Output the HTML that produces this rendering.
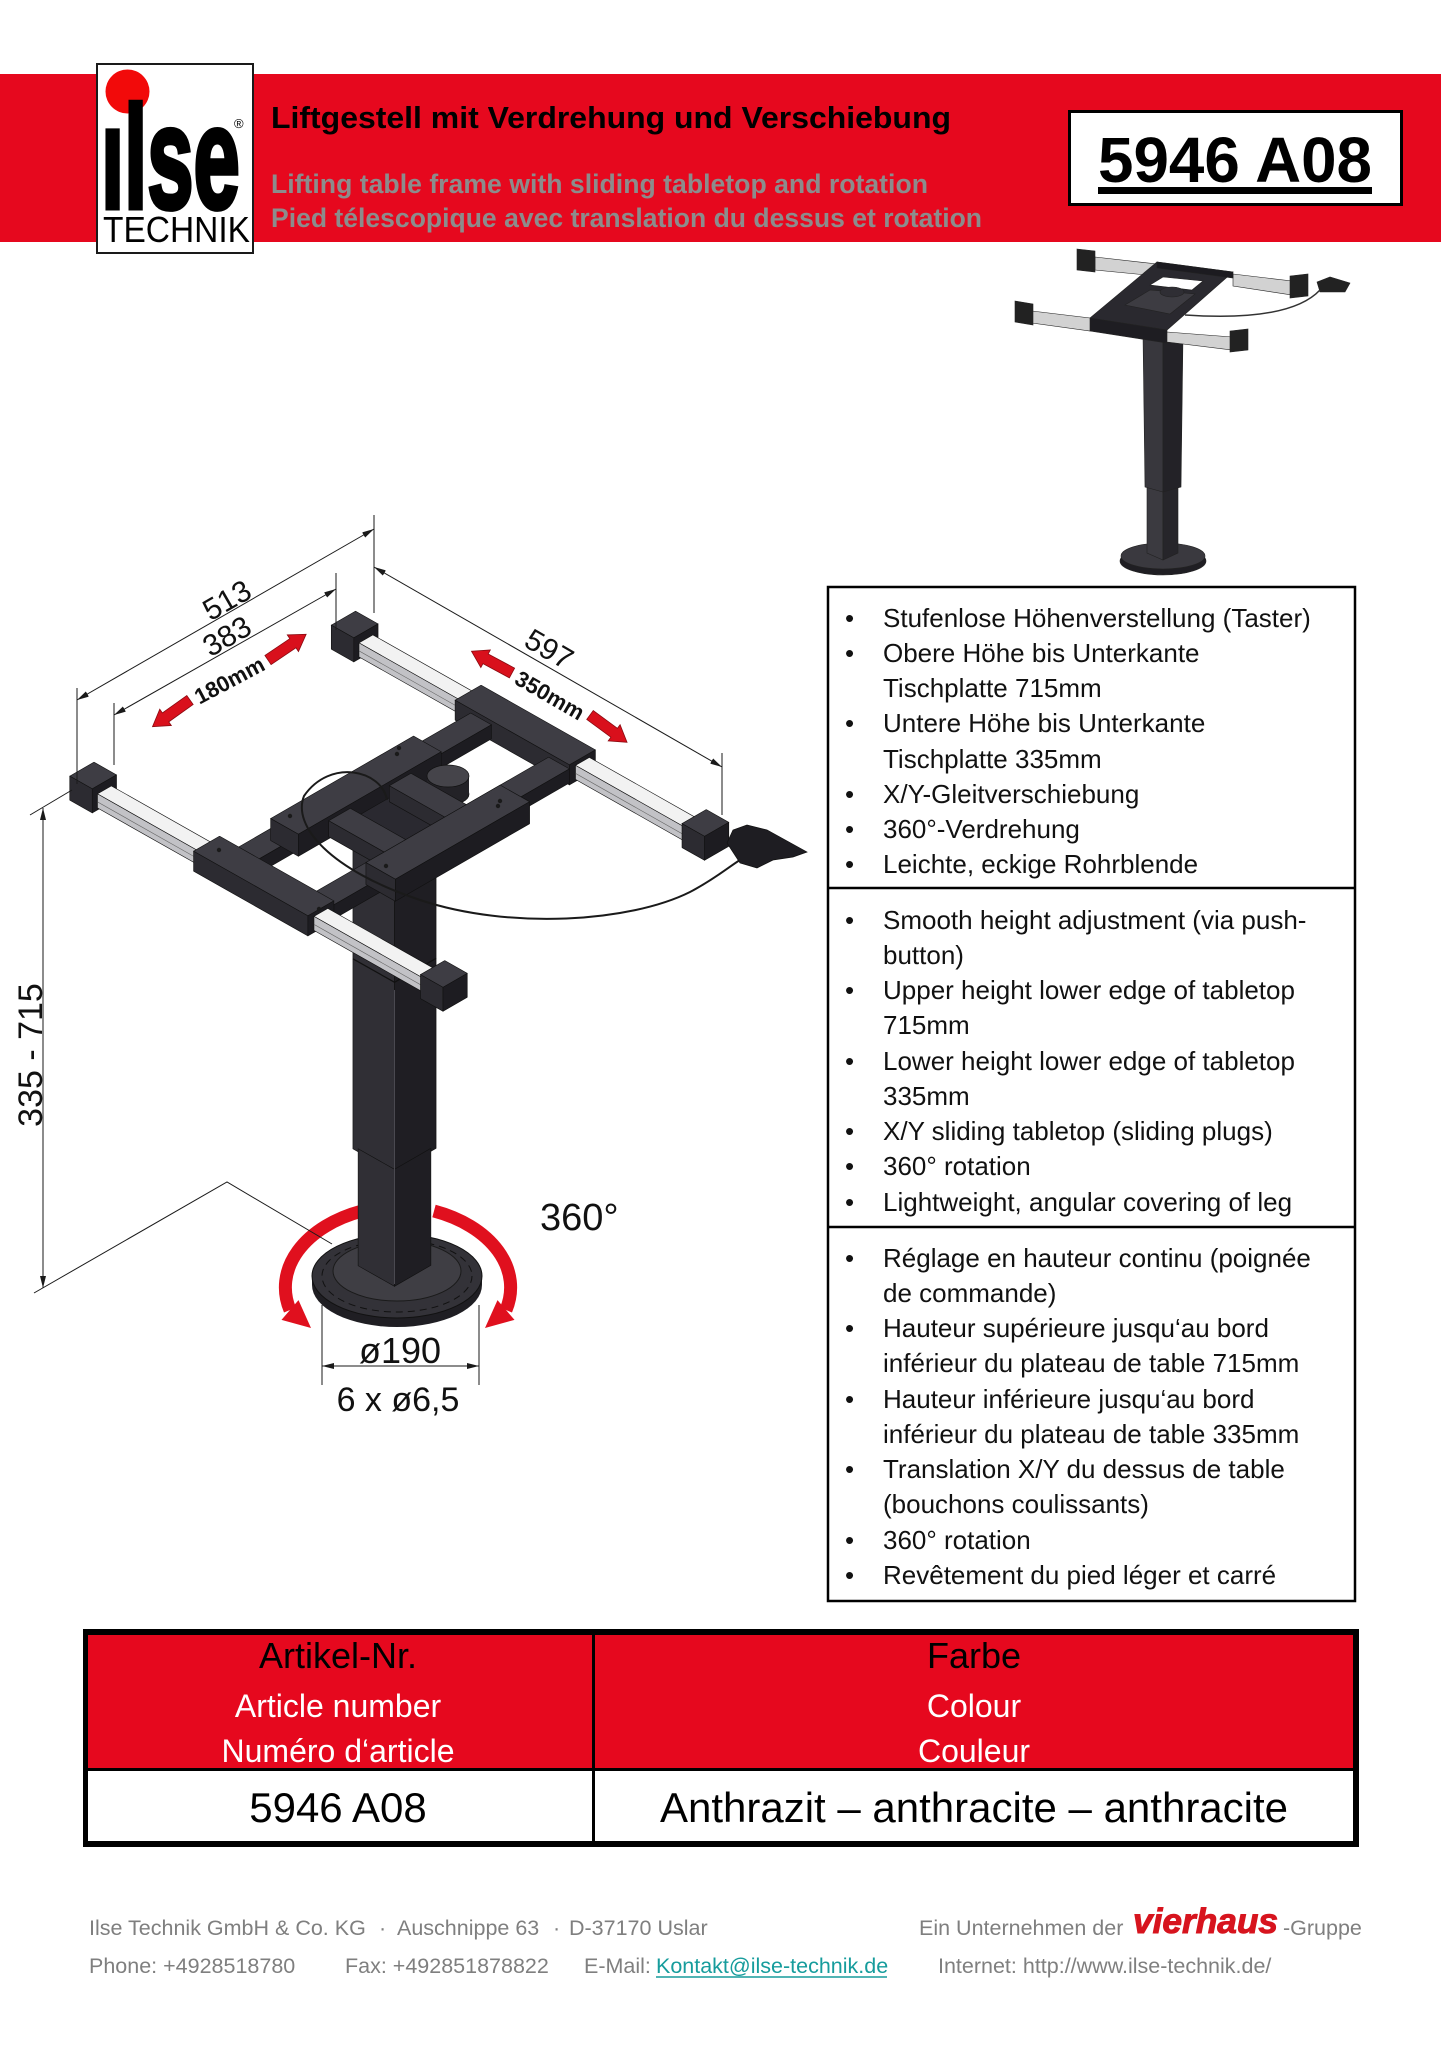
<!DOCTYPE html>
<html><head><meta charset="utf-8"><title>5946 A08</title>
<style>
html,body{margin:0;padding:0;background:#fff;}
svg{display:block;font-family:"Liberation Sans",Arial,sans-serif;}
</style></head>
<body>
<svg width="1441" height="2048" viewBox="0 0 1441 2048" xmlns="http://www.w3.org/2000/svg">
<defs>
<marker id="ar" viewBox="0 0 12 6" refX="12" refY="3" markerWidth="12" markerHeight="6" markerUnits="userSpaceOnUse" orient="auto-start-reverse"><path d="M0,0 L12,3 L0,6 z" fill="#1a1a1a"/></marker>
</defs>
<rect width="1441" height="2048" fill="#fff"/>

<!-- HEADER -->
<rect x="0" y="74" width="1441" height="168" fill="#e6081e"/>
<rect x="97" y="64" width="156" height="189" fill="#fff" stroke="#1a1a1a" stroke-width="2"/>
<circle cx="127.5" cy="91.5" r="22" fill="#f20a0a"/>
<text transform="translate(101,208) scale(0.57,1)" font-size="146" font-weight="bold" fill="#000" stroke="#000" stroke-width="5">ılse</text>
<text x="234" y="128" font-size="13" fill="#000">®</text>
<text x="103" y="242" font-size="36" fill="#000" textLength="147" lengthAdjust="spacingAndGlyphs">TECHNIK</text>

<text x="271" y="128" font-size="31" font-weight="bold" fill="#000" textLength="680" lengthAdjust="spacingAndGlyphs">Liftgestell mit Verdrehung und Verschiebung</text>
<text x="271" y="193" font-size="27" font-weight="bold" fill="#8c8c8c" textLength="657" lengthAdjust="spacingAndGlyphs">Lifting table frame with sliding tabletop and rotation</text>
<text x="271" y="227" font-size="27" font-weight="bold" fill="#8c8c8c" textLength="711" lengthAdjust="spacingAndGlyphs">Pied télescopique avec translation du dessus et rotation</text>

<rect x="1069.5" y="111.5" width="332" height="93" fill="#fff" stroke="#000" stroke-width="3"/>
<text x="1098" y="182" font-size="64" font-weight="bold" fill="#000" textLength="274" lengthAdjust="spacingAndGlyphs">5946 A08</text>
<rect x="1098" y="187" width="274" height="7" fill="#000"/>

<!-- THUMBNAIL -->
<g stroke="#222" stroke-width="0.6">
<ellipse cx="1163" cy="561" rx="43" ry="14" fill="#1f1e23"/>
<ellipse cx="1163" cy="556" rx="42" ry="13" fill="#3a393f"/>
<polygon points="1147,487 1163,492 1163,560 1147,553" fill="#3b3a40"/>
<polygon points="1163,492 1178,487 1178,553 1163,560" fill="#26252a"/>
<polygon points="1143,335 1163,340 1163,492 1145,487" fill="#38373d"/>
<polygon points="1163,340 1183,335 1181,487 1163,492" fill="#232227"/>
<polygon points="1095,257 1157,264 1157,276 1095,270" fill="#d2d2d2"/>
<polygon points="1077,249 1095,251 1095,272 1077,270" fill="#222"/>
<polygon points="1233,274 1292,281 1292,295 1233,286" fill="#d2d2d2"/>
<polygon points="1290,276 1308,274 1308,296 1290,298" fill="#222"/>
<polygon points="1090,318 1157,262 1233,272 1167,330" fill="#2a292f"/>
<polygon points="1157,262 1233,272 1233,278 1157,268" fill="#1c1b20"/>
<polygon points="1150,285 1163,277 1203,281 1192,290" fill="#fff"/>
<polygon points="1125,305 1150,290 1195,294 1170,314" fill="#3d3c42"/>
<ellipse cx="1172" cy="292" rx="12" ry="5" fill="#2f2e34"/>
<polygon points="1090,318 1167,330 1167,343 1090,331" fill="#1e1d22"/>
<polygon points="1032,311 1090,318 1090,331 1032,323" fill="#d2d2d2"/>
<polygon points="1015,301 1033,304 1033,325 1015,322" fill="#222"/>
<polygon points="1167,332 1232,337 1232,350 1167,342" fill="#d2d2d2"/>
<polygon points="1230,331 1248,329 1248,350 1230,352" fill="#222"/>
<polygon points="1317,282 1330,277 1350,283 1345,292 1320,292" fill="#222"/>
</g>
<path d="M1185 315 Q1290 322 1320 290" stroke="#333" stroke-width="1.5" fill="none"/>

<!-- MAIN DRAWING -->
<!-- base -->
<ellipse cx="397" cy="1285" rx="85" ry="42" fill="#1f1e23"/>
<rect x="312" y="1276" width="170" height="9" fill="#1f1e23"/>
<ellipse cx="397" cy="1276" rx="85" ry="42" fill="#333238" stroke="#111" stroke-width="1"/>
<ellipse cx="397" cy="1276" rx="75" ry="36" fill="none" stroke="#111" stroke-width="1" stroke-dasharray="7 5"/>
<ellipse cx="397" cy="1271" rx="64" ry="30" fill="#3f3e44" stroke="#1a1a1a" stroke-width="1"/>

<!-- red rotation arrows -->
<path d="M362 1211 A120 82 0 0 0 290 1310" stroke="#e0101e" stroke-width="13" fill="none"/>
<polygon points="281.5,1319.9 298.5,1300.1 311,1328" fill="#e0101e"/>
<path d="M434 1211 A120 82 0 0 1 506 1310" stroke="#e0101e" stroke-width="13" fill="none"/>
<polygon points="514.5,1319.9 497.5,1300.1 485,1328" fill="#e0101e"/>

<!-- column -->
<g stroke="#111" stroke-width="0.7">
<g transform="matrix(0.866 0.49 0 1 203.98 724.5)"><rect x="172" y="20" width="48" height="320" fill="#302f35"/></g>
<g transform="matrix(0.866 -0.5 0 1 284.52 895.8)"><rect x="127" y="20" width="48" height="320" fill="#1f1e23"/></g>
<g transform="matrix(0.866 0.49 0 1 206.58 723)"><rect x="175" y="340" width="42" height="117" fill="#302f35"/></g>
<g transform="matrix(0.866 -0.5 0 1 281.92 894.33)"><rect x="130" y="340" width="42" height="117" fill="#1f1e23"/></g>
</g>
<polyline points="352.9,958.8 394.5,982.3 436.1,958.3" stroke="#111" stroke-width="1.2" fill="none"/>
<line x1="394.5" y1="990" x2="394.5" y2="1284" stroke="#4a4950" stroke-width="1"/>

<!-- frame -->
<g stroke="#111" stroke-width="0.7" stroke-linejoin="round">
<!-- BE -->
<g transform="matrix(0.866 0.49 0.866 -0.5 94 776)"><rect x="-14" y="288" width="26" height="28" fill="#3e3d44"/></g>
<g transform="matrix(0.866 0.49 0 1 343.408 644)"><rect x="-14" y="-12" width="26" height="24" fill="#2c2b31"/></g>
<g transform="matrix(0.866 -0.5 0 1 104.392 793.88)"><rect x="288" y="-12" width="28" height="24" fill="#1d1c21"/></g>
<!-- R3 -->
<g transform="matrix(0.866 0.49 0.866 -0.5 94 784)"><rect x="12" y="294" width="118" height="16" fill="#f2f2f2"/></g>
<g transform="matrix(0.866 0.49 0 1 348.6 641)"><rect x="12" y="-4" width="118" height="14" fill="#c2c2c6"/><line x1="12" y1="4" x2="130" y2="4" stroke="#666"/></g>
<!-- BB -->
<g transform="matrix(0.866 0.49 0.866 -0.5 94 780)"><rect x="130" y="287" width="132" height="30" fill="#3e3d44"/></g>
<g transform="matrix(0.866 0.49 0 1 342.542 644.5)"><rect x="130" y="-8" width="132" height="20" fill="#2c2b31"/></g>
<g transform="matrix(0.866 -0.5 0 1 320.892 916.38)"><rect x="287" y="-8" width="30" height="20" fill="#1d1c21"/></g>
<!-- CB1 connector -->
<g transform="matrix(0.866 0.49 0.866 -0.5 94 784)"><rect x="148" y="15" width="24" height="272" fill="#3e3d44"/></g>
<g transform="matrix(0.866 -0.5 0 1 242.95 872.28)"><rect x="15" y="-4" width="272" height="14" fill="#1d1c21"/></g>
<!-- CB1 block -->
<g transform="matrix(0.866 0.49 0.866 -0.5 94 778)"><rect x="144" y="60" width="32" height="165" fill="#3e3d44"/></g>
<g transform="matrix(0.866 0.49 0 1 145.96 758)"><rect x="144" y="-10" width="32" height="22" fill="#2c2b31"/></g>
<g transform="matrix(0.866 -0.5 0 1 246.42 874.24)"><rect x="60" y="-10" width="165" height="22" fill="#1d1c21"/></g>
<!-- plate -->
<g transform="matrix(0.866 0.49 0.866 -0.5 94 794)"><rect x="176" y="118" width="68" height="50" fill="#2a2930"/></g>
<g transform="matrix(0.866 0.49 0 1 196.19 729)"><rect x="176" y="6" width="68" height="16" fill="#222126"/></g>
</g>
<!-- motor -->
<ellipse cx="448" cy="794" rx="21" ry="11" fill="#232227" stroke="#111" stroke-width="0.7"/>
<rect x="427" y="776" width="42" height="18" fill="#232227"/>
<ellipse cx="448" cy="776" rx="21" ry="11" fill="#45444a" stroke="#111" stroke-width="0.7"/>
<g stroke="#111" stroke-width="0.7" stroke-linejoin="round">
<!-- IB2 -->
<g transform="matrix(0.866 0.49 0.866 -0.5 94 782)"><rect x="176" y="165" width="68" height="25" fill="#3e3d44"/></g>
<g transform="matrix(0.866 0.49 0 1 236.89 705.5)"><rect x="176" y="-6" width="68" height="16" fill="#2c2b31"/></g>
<!-- IB1 -->
<g transform="matrix(0.866 0.49 0.866 -0.5 94 782)"><rect x="176" y="95" width="68" height="25" fill="#3e3d44"/></g>
<g transform="matrix(0.866 0.49 0 1 176.27 740.5)"><rect x="176" y="-6" width="68" height="16" fill="#2c2b31"/></g>
<!-- CB2 connector -->
<g transform="matrix(0.866 0.49 0.866 -0.5 94 784)"><rect x="238" y="15" width="24" height="272" fill="#3e3d44"/></g>
<g transform="matrix(0.866 -0.5 0 1 320.892 916.38)"><rect x="15" y="-4" width="272" height="14" fill="#1d1c21"/></g>
<!-- CB2 block -->
<g transform="matrix(0.866 0.49 0.866 -0.5 94 778)"><rect x="244" y="70" width="34" height="155" fill="#3e3d44"/></g>
<g transform="matrix(0.866 0.49 0 1 154.62 753)"><rect x="244" y="-10" width="34" height="22" fill="#2c2b31"/></g>
<g transform="matrix(0.866 -0.5 0 1 334.75 924.22)"><rect x="70" y="-10" width="155" height="22" fill="#1d1c21"/></g>
<!-- R4 -->
<g transform="matrix(0.866 0.49 0.866 -0.5 94 784)"><rect x="262" y="294" width="129" height="16" fill="#f2f2f2"/></g>
<g transform="matrix(0.866 0.49 0 1 348.6 641)"><rect x="262" y="-4" width="129" height="14" fill="#c2c2c6"/><line x1="262" y1="4" x2="391" y2="4" stroke="#666"/></g>
<!-- RE -->
<g transform="matrix(0.866 0.49 0.866 -0.5 94 776)"><rect x="391" y="288" width="26" height="28" fill="#3e3d44"/></g>
<g transform="matrix(0.866 0.49 0 1 343.408 644)"><rect x="391" y="-12" width="26" height="24" fill="#2c2b31"/></g>
<g transform="matrix(0.866 -0.5 0 1 455.122 992.33)"><rect x="288" y="-12" width="28" height="24" fill="#1d1c21"/></g>
<!-- LE -->
<g transform="matrix(0.866 0.49 0.866 -0.5 94 776)"><rect x="-14" y="-14" width="26" height="28" fill="#3e3d44"/></g>
<g transform="matrix(0.866 0.49 0 1 81.876 795)"><rect x="-14" y="-12" width="26" height="24" fill="#2c2b31"/></g>
<g transform="matrix(0.866 -0.5 0 1 104.392 793.88)"><rect x="-14" y="-12" width="28" height="24" fill="#1d1c21"/></g>
<!-- R1 -->
<g transform="matrix(0.866 0.49 0.866 -0.5 94 784)"><rect x="12" y="-8" width="118" height="16" fill="#f2f2f2"/></g>
<g transform="matrix(0.866 0.49 0 1 87.072 792)"><rect x="12" y="-4" width="118" height="14" fill="#c2c2c6"/><line x1="12" y1="4" x2="130" y2="4" stroke="#666"/></g>
<!-- FB -->
<g transform="matrix(0.866 0.49 0.866 -0.5 94 780)"><rect x="130" y="-15" width="132" height="30" fill="#3e3d44"/></g>
<g transform="matrix(0.866 0.49 0 1 81.01 795.5)"><rect x="130" y="-8" width="132" height="20" fill="#2c2b31"/></g>
<g transform="matrix(0.866 -0.5 0 1 320.892 916.38)"><rect x="-15" y="-8" width="30" height="20" fill="#1d1c21"/></g>
<!-- R2 -->
<g transform="matrix(0.866 0.49 0.866 -0.5 94 784)"><rect x="262" y="-8" width="129" height="16" fill="#f2f2f2"/></g>
<g transform="matrix(0.866 0.49 0 1 87.072 792)"><rect x="262" y="-4" width="129" height="14" fill="#c2c2c6"/><line x1="262" y1="4" x2="391" y2="4" stroke="#666"/></g>
<!-- FE -->
<g transform="matrix(0.866 0.49 0.866 -0.5 94 776)"><rect x="391" y="-14" width="26" height="28" fill="#3e3d44"/></g>
<g transform="matrix(0.866 0.49 0 1 81.876 795)"><rect x="391" y="-12" width="26" height="24" fill="#2c2b31"/></g>
<g transform="matrix(0.866 -0.5 0 1 455.122 992.33)"><rect x="-14" y="-12" width="28" height="24" fill="#1d1c21"/></g>
</g>
<!-- bolt holes -->
<g fill="#1a1a1a">
<circle cx="219" cy="850" r="2.2"/><circle cx="319" cy="909" r="2.2"/>
<circle cx="399" cy="748" r="2.2"/><circle cx="498" cy="806" r="2.2"/>
<circle cx="386" cy="866" r="2.2"/><circle cx="500" cy="801" r="2.2"/>
<circle cx="290" cy="816" r="2.2"/><circle cx="397" cy="754" r="2.2"/>
</g>

<!-- cable + hand control -->
<path d="M387 800 C382 770, 330 758, 304 796 C292 826, 330 870, 420 900 C510 930, 630 922, 690 892 C715 879, 730 866, 740 860" stroke="#1a1a1a" stroke-width="2" fill="none"/>
<polygon points="727,843 733,830 747,825 767,830 807,852 793,857 773,860 757,868 740,863" fill="#1e1d22" stroke="#111" stroke-width="0.7"/>

<!-- red slide arrows -->
<g fill="#d9101c" stroke="#8a0a10" stroke-width="0.8">
<polygon transform="translate(190,700) rotate(144.6)" points="0,-5.5 30,-5.5 30,-10 46,0 30,10 30,5.5 0,5.5"/>
<polygon transform="translate(268,660) rotate(-34)" points="0,-5.5 30,-5.5 30,-10 46,0 30,10 30,5.5 0,5.5"/>
<polygon transform="translate(512,673) rotate(-151.7)" points="0,-5.5 30,-5.5 30,-10 46,0 30,10 30,5.5 0,5.5"/>
<polygon transform="translate(590,715) rotate(36.4)" points="0,-5.5 30,-5.5 30,-10 46,0 30,10 30,5.5 0,5.5"/>
</g>

<!-- dimension lines -->
<g stroke="#1a1a1a" stroke-width="1" fill="none">
<line x1="77" y1="688" x2="77" y2="784"/>
<line x1="374" y1="515" x2="374" y2="613"/>
<line x1="114" y1="703" x2="114" y2="765"/>
<line x1="336" y1="573" x2="336" y2="630"/>
<line x1="722" y1="753" x2="722" y2="815"/>
<line x1="30" y1="815" x2="72" y2="790"/>
<polyline points="34,1293 227,1182 332,1244"/>
<line x1="322" y1="1305" x2="322" y2="1385"/>
<line x1="479" y1="1305" x2="479" y2="1385"/>
<line x1="77" y1="700" x2="374" y2="529" marker-start="url(#ar)" marker-end="url(#ar)"/>
<line x1="114" y1="715" x2="336" y2="589" marker-start="url(#ar)" marker-end="url(#ar)"/>
<line x1="374" y1="567" x2="722" y2="767" marker-start="url(#ar)" marker-end="url(#ar)"/>
<line x1="43" y1="808" x2="43" y2="1288" marker-start="url(#ar)" marker-end="url(#ar)"/>
<line x1="322" y1="1366" x2="479" y2="1366" marker-start="url(#ar)" marker-end="url(#ar)"/>
</g>

<!-- dimension text -->
<g fill="#111">
<text transform="translate(232,609) rotate(-30)" text-anchor="middle" font-size="30">513</text>
<text transform="translate(232,645) rotate(-30)" text-anchor="middle" font-size="30">383</text>
<text transform="translate(233,687) rotate(-28)" text-anchor="middle" font-size="22" font-weight="bold">180mm</text>
<text transform="translate(544,658) rotate(30)" text-anchor="middle" font-size="30">597</text>
<text transform="translate(546,702) rotate(30)" text-anchor="middle" font-size="22" font-weight="bold">350mm</text>
<text transform="translate(42,1055) rotate(-90)" text-anchor="middle" font-size="34">335 - 715</text>
<text x="540" y="1230" font-size="38">360°</text>
<text x="400" y="1363" text-anchor="middle" font-size="36">ø190</text>
<text x="398" y="1411" text-anchor="middle" font-size="34">6 x ø6,5</text>
</g>

<!-- RIGHT PANEL -->
<rect x="828" y="587" width="527" height="1014" fill="none" stroke="#000" stroke-width="2.5"/>
<line x1="828" y1="888" x2="1355" y2="888" stroke="#000" stroke-width="2.5"/>
<line x1="828" y1="1227" x2="1355" y2="1227" stroke="#000" stroke-width="2.5"/>
<g font-size="26" fill="#111">
<text x="845" y="627">•</text><text x="883" y="627">Stufenlose Höhenverstellung (Taster)</text>
<text x="845" y="662">•</text><text x="883" y="662">Obere Höhe bis Unterkante</text>
<text x="883" y="697">Tischplatte 715mm</text>
<text x="845" y="732">•</text><text x="883" y="732">Untere Höhe bis Unterkante</text>
<text x="883" y="768">Tischplatte 335mm</text>
<text x="845" y="803">•</text><text x="883" y="803">X/Y-Gleitverschiebung</text>
<text x="845" y="838">•</text><text x="883" y="838">360°-Verdrehung</text>
<text x="845" y="873">•</text><text x="883" y="873">Leichte, eckige Rohrblende</text>

<text x="845" y="929">•</text><text x="883" y="929">Smooth height adjustment (via push-</text>
<text x="883" y="964">button)</text>
<text x="845" y="999">•</text><text x="883" y="999">Upper height lower edge of tabletop</text>
<text x="883" y="1034">715mm</text>
<text x="845" y="1070">•</text><text x="883" y="1070">Lower height lower edge of tabletop</text>
<text x="883" y="1105">335mm</text>
<text x="845" y="1140">•</text><text x="883" y="1140">X/Y sliding tabletop (sliding plugs)</text>
<text x="845" y="1175">•</text><text x="883" y="1175">360° rotation</text>
<text x="845" y="1211">•</text><text x="883" y="1211">Lightweight, angular covering of leg</text>

<text x="845" y="1267">•</text><text x="883" y="1267">Réglage en hauteur continu (poignée</text>
<text x="883" y="1302">de commande)</text>
<text x="845" y="1337">•</text><text x="883" y="1337">Hauteur supérieure jusqu‘au bord</text>
<text x="883" y="1372">inférieur du plateau de table 715mm</text>
<text x="845" y="1408">•</text><text x="883" y="1408">Hauteur inférieure jusqu‘au bord</text>
<text x="883" y="1443">inférieur du plateau de table 335mm</text>
<text x="845" y="1478">•</text><text x="883" y="1478">Translation X/Y du dessus de table</text>
<text x="883" y="1513">(bouchons coulissants)</text>
<text x="845" y="1549">•</text><text x="883" y="1549">360° rotation</text>
<text x="845" y="1584">•</text><text x="883" y="1584">Revêtement du pied léger et carré</text>
</g>

<!-- TABLE -->
<rect x="83" y="1629" width="1276" height="218" fill="#000"/>
<rect x="88" y="1635" width="1265" height="133" fill="#e6081e"/>
<rect x="88" y="1771" width="1265" height="70" fill="#fff"/>
<rect x="592" y="1635" width="3" height="206" fill="#000"/>
<g text-anchor="middle">
<text x="338" y="1668" font-size="36" fill="#000">Artikel-Nr.</text>
<text x="338" y="1717" font-size="32" fill="#fff">Article number</text>
<text x="338" y="1762" font-size="32" fill="#fff">Numéro d‘article</text>
<text x="974" y="1668" font-size="36" fill="#000">Farbe</text>
<text x="974" y="1717" font-size="32" fill="#fff">Colour</text>
<text x="974" y="1762" font-size="32" fill="#fff">Couleur</text>
<text x="338" y="1822" font-size="42" fill="#000">5946 A08</text>
<text x="974" y="1822" font-size="42" fill="#000">Anthrazit – anthracite – anthracite</text>
</g>

<!-- FOOTER -->
<g font-size="21.5" fill="#7f7f7f">
<text x="89" y="1935">Ilse Technik GmbH &amp; Co. KG</text>
<text x="379" y="1935">·</text>
<text x="397" y="1935">Auschnippe 63</text>
<text x="553" y="1935">·</text>
<text x="569" y="1935">D-37170 Uslar</text>
<text x="919" y="1935">Ein Unternehmen der</text>
<text x="1283" y="1935">-Gruppe</text>
<text x="89" y="1973">Phone: +4928518780</text>
<text x="345" y="1973">Fax: +492851878822</text>
<text x="584" y="1973">E-Mail:</text>
<text x="938" y="1973">Internet: http://www.ilse-technik.de/</text>
</g>
<text x="656" y="1973" font-size="21.5" fill="#169c9c">Kontakt@ilse-technik.de</text>
<line x1="656" y1="1977" x2="887" y2="1977" stroke="#169c9c" stroke-width="1.5"/>
<text x="1133" y="1933" font-size="35" font-weight="bold" font-style="italic" fill="#d7141e" stroke="#d7141e" stroke-width="1" textLength="145" lengthAdjust="spacingAndGlyphs">vierhaus</text>
</svg>
</body></html>
